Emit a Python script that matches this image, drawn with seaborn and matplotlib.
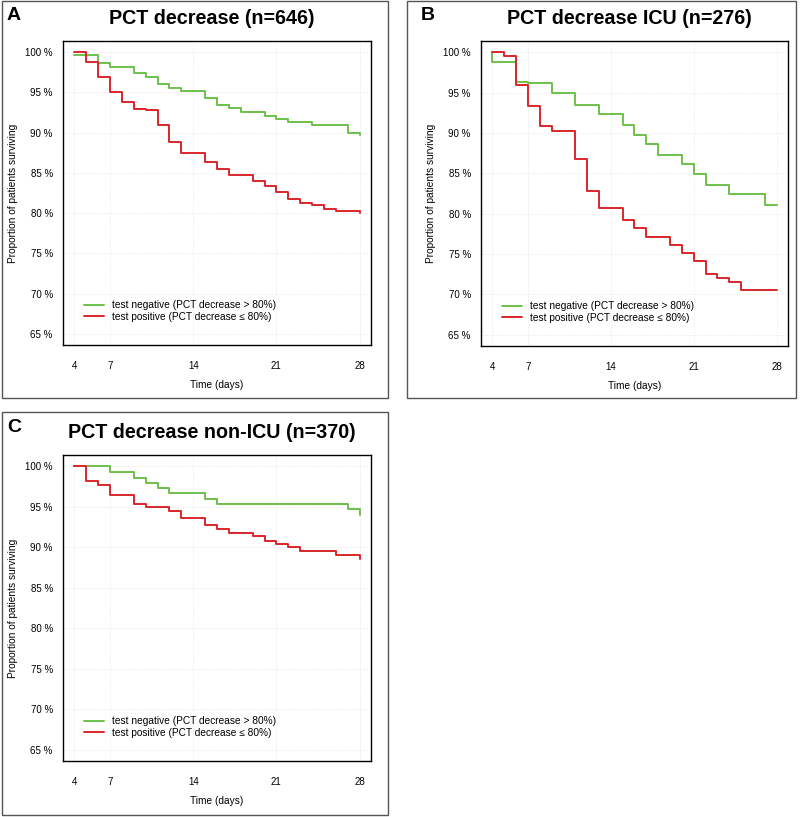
import matplotlib
matplotlib.use("Agg")
import matplotlib.pyplot as plt
from matplotlib.patches import Rectangle
import seaborn as sns
import pandas as pd

# survival curves (day, % surviving)
a_neg_days = [4, 6, 7, 9, 10, 11, 12, 13, 15, 16, 17, 18, 20, 21, 22, 24, 27, 28]
a_neg_surv = [99.7, 98.7, 98.2, 97.4, 96.9, 96.1, 95.6, 95.2, 94.3, 93.4, 93.1, 92.6, 92.1, 91.7, 91.3, 90.9, 90.0, 89.7]
a_pos_days = [4, 5, 6, 7, 8, 9, 10, 11, 12, 13, 15, 16, 17, 19, 20, 21, 22, 23, 24, 25, 26, 28]
a_pos_surv = [100, 98.8, 96.9, 95.0, 93.8, 93.0, 92.8, 91.0, 88.9, 87.5, 86.3, 85.5, 84.8, 84.0, 83.4, 82.6, 81.7, 81.2, 81.0, 80.5, 80.2, 80.0]

b_neg_days = [4, 4, 6, 7, 9, 11, 13, 15, 16, 17, 18, 20, 21, 22, 24, 27, 28]
b_neg_surv = [100, 98.8, 96.3, 96.2, 95.0, 93.5, 92.3, 91.0, 89.8, 88.6, 87.3, 86.1, 84.9, 83.6, 82.4, 81.1, 81.1]
b_pos_days = [4, 5, 6, 7, 8, 9, 11, 12, 13, 15, 16, 17, 19, 20, 21, 22, 23, 24, 25, 28]
b_pos_surv = [100, 99.5, 95.9, 93.4, 90.9, 90.3, 86.8, 82.8, 80.75, 79.2, 78.2, 77.1, 76.1, 75.1, 74.1, 72.5, 72.0, 71.5, 70.5, 70.5]

c_neg_days = [4, 7, 9, 10, 11, 12, 15, 16, 27, 28]
c_neg_surv = [100, 99.3, 98.6, 97.9, 97.3, 96.7, 96.0, 95.35, 94.7, 94.0]
c_pos_days = [4, 5, 6, 7, 9, 10, 12, 13, 15, 16, 17, 19, 20, 21, 22, 23, 26, 28]
c_pos_surv = [100, 98.2, 97.7, 96.4, 95.4, 95.0, 94.5, 93.6, 92.7, 92.2, 91.8, 91.4, 90.8, 90.4, 90.0, 89.5, 89.0, 88.5]

titles = ["PCT decrease (n=646)", "PCT decrease ICU (n=276)", "PCT decrease non-ICU (n=370)"]
letters = ["A", "B", "C"]
x_ticks = [4, 7, 14, 21, 28]
y_ticks = [65, 70, 75, 80, 85, 90, 95, 100]
lab_neg = "test negative (PCT decrease > 80%)"
lab_pos = "test positive (PCT decrease \u2264 80%)"

sns.set_style("white")
plt.rcParams['font.family'] = ['Liberation Sans', 'DejaVu Sans']
plt.rcParams['text.color'] = 'black'
plt.rcParams['axes.labelcolor'] = 'black'
plt.rcParams['xtick.color'] = 'black'
plt.rcParams['ytick.color'] = 'black'

W, H = 800, 817
fig = plt.figure(figsize=(8, 8.17), dpi=100)

def fr(l, t, r, b):
    return [l / W, (H - b) / H, (r - l) / W, (b - t) / H]

# outer panel boxes
for (l, t, r, b) in [(2, 1, 388, 398), (407, 1, 796, 398), (2, 412, 388, 815)]:
    fig.patches.append(Rectangle((l / W, (H - b) / H), (r - l) / W, (b - t) / H,
                                 transform=fig.transFigure, fill=False,
                                 edgecolor='#555555', lw=1.0))

axes_px = [(63, 41, 371, 345), (481, 41, 788, 346), (63, 455, 371, 761)]
title_pos = [(212, 18), (629, 18), (212, 432)]
letter_pos = [(14, 16), (428, 16), (14, 428)]
curves = [(a_neg_days, a_neg_surv, a_pos_days, a_pos_surv),
          (b_neg_days, b_neg_surv, b_pos_days, b_pos_surv),
          (c_neg_days, c_neg_surv, c_pos_days, c_pos_surv)]

pal = {lab_neg: '#6cc04a', lab_pos: '#d9262c'}

for i in range(3):
    nd, ns, pd_, ps = curves[i]
    df = pd.concat([pd.DataFrame({'day': nd, 'surv': ns, 'group': lab_neg}),
                    pd.DataFrame({'day': pd_, 'surv': ps, 'group': lab_pos})])
    l, t, r, b = axes_px[i]
    aw, ah = r - l, b - t
    ax = fig.add_axes(fr(l, t, r, b))
    sns.lineplot(data=df, x='day', y='surv', hue='group', hue_order=[lab_neg, lab_pos],
                 palette=pal, estimator=None, sort=False, drawstyle='steps-post',
                 lw=1.4, ax=ax)
    ax.set_xlim(3.04, 28.96)
    ax.set_ylim(63.6, 101.4)
    ax.set_xticks(x_ticks)
    ax.set_yticks(y_ticks)
    ax.set_yticklabels([f"{v} %" for v in y_ticks])
    ax.grid(True, color='#dddddd', lw=0.5, ls=':')
    ax.tick_params(axis='both', labelsize=7, length=4.3, width=0.9, direction='out')
    ax.tick_params(axis='x', pad=7)
    ax.tick_params(axis='y', pad=3)
    for s in ax.spines.values():
        s.set_color('black')
        s.set_linewidth(1.0)
    ax.set_xlabel("Time (days)", fontsize=7.3)
    ax.set_ylabel("Proportion of patients surviving", fontsize=7.3)
    ax.xaxis.set_label_coords(0.5, -35 / ah)
    ax.yaxis.set_label_coords(-45 / aw, 0.5)
    h, lb = ax.get_legend_handles_labels()
    for hh in h:
        hh.set_linewidth(1.4)
    ax.legend(h, lb, loc='lower left', bbox_to_anchor=(0.052, 0.059), frameon=False,
              borderpad=0, fontsize=7.3, handlelength=2.0, handletextpad=0.8, labelspacing=0.15)
    tx, ty = title_pos[i]
    fig.text(tx / W, 1 - ty / H, titles[i], fontsize=14.2, fontweight='bold', ha='center', va='center')
    lx, ly = letter_pos[i]
    fig.text(lx / W, 1 - ly / H, letters[i], fontsize=14, fontweight='bold', ha='center', va='center')

fig.savefig("out.png", dpi=100)
